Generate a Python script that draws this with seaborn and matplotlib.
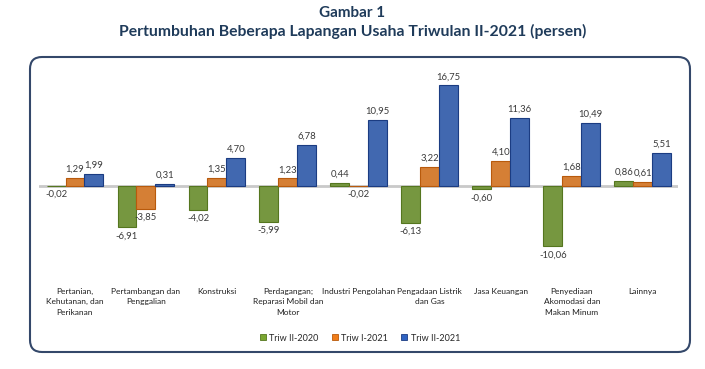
import pandas as pd
import matplotlib
matplotlib.use("Agg")
import matplotlib.pyplot as plt
import seaborn as sns
from matplotlib.patches import FancyBboxPatch

# data
kategori = [
    "Pertanian,\nKehutanan, dan\nPerikanan",
    "Pertambangan dan\nPenggalian",
    "Konstruksi",
    "Perdagangan;\nReparasi Mobil dan\nMotor",
    "Industri Pengolahan",
    "Pengadaan Listrik\ndan Gas",
    "Jasa Keuangan",
    "Penyediaan\nAkomodasi dan\nMakan Minum",
    "Lainnya",
]
periode = ["Triw II-2020", "Triw I-2021", "Triw II-2021"]
triw2_2020 = [-0.02, -6.91, -4.02, -5.99, 0.44, -6.13, -0.60, -10.06, 0.86]
triw1_2021 = [1.29, -3.85, 1.35, 1.23, -0.02, 3.22, 4.10, 1.68, 0.61]
triw2_2021 = [1.99, 0.31, 4.70, 6.78, 10.95, 16.75, 11.36, 10.49, 5.51]

df = pd.DataFrame({
    "kategori": kategori * 3,
    "periode": [p for p in periode for _ in kategori],
    "nilai": triw2_2020 + triw1_2021 + triw2_2021,
})

warna = ["#7aa631", "#f07d1a", "#2f63c2"]
tepi = ["#55761f", "#b85a0c", "#1b3c82"]

sns.set_style("white")
plt.rcParams["font.family"] = ["Lato", "DejaVu Sans"]

fig = plt.figure(figsize=(7.05, 3.69), dpi=100)
ax = fig.add_axes([0.056, 0.295, 0.906, 0.515])

sns.barplot(data=df, x="kategori", y="nilai", hue="periode", palette=warna,
            width=0.8, ax=ax, legend=False, zorder=3)

for cont, ec, vals in zip(ax.containers, tepi, [triw2_2020, triw1_2021, triw2_2021]):
    for b in cont:
        b.set_edgecolor(ec)
        b.set_linewidth(0.8)
    ax.bar_label(cont, labels=[f"{v:.2f}".replace(".", ",") for v in vals],
                 padding=3, fontsize=6.8, color="#3a3a3a")

ax.axhline(0, color="#c9c9c9", lw=2, zorder=2)
ax.set_xlim(-0.5, 8.5)
ax.set_ylim(-12.4, 19.3)
ax.set_xlabel("")
ax.set_ylabel("")
ax.set_yticks([])
sns.despine(ax=ax, left=True, bottom=True)
ax.tick_params(axis="x", length=0, pad=20, labelsize=6, labelcolor="#202020")
for t in ax.get_xticklabels():
    t.set_linespacing(1.55)

# legend
handles = [plt.Line2D([], [], marker="s", ls="", markersize=5, markerfacecolor=c,
                      markeredgecolor=e, markeredgewidth=0.6) for c, e in zip(warna, tepi)]
fig.legend(handles, periode, loc="center", bbox_to_anchor=(0.51, 0.084), ncol=3,
           frameon=False, fontsize=6.5, handlelength=0.8, handletextpad=0.3,
           columnspacing=1.4)

# rounded frame
box = FancyBboxPatch((0.30, 0.17), 6.60, 2.95, boxstyle="round,pad=0,rounding_size=0.12",
                     transform=fig.dpi_scale_trans, fill=False, edgecolor="#34486a", lw=1.5)
fig.patches.append(box)

fig.text(0.5, 0.965, "Gambar 1", ha="center", va="center", fontsize=11,
         fontweight="bold", color="#1f3b5a")
fig.text(0.5, 0.915, "Pertumbuhan Beberapa Lapangan Usaha Triwulan II-2021 (persen)",
         ha="center", va="center", fontsize=11.3, fontweight="bold", color="#1f3b5a")

fig.savefig("out.png", dpi=100)
